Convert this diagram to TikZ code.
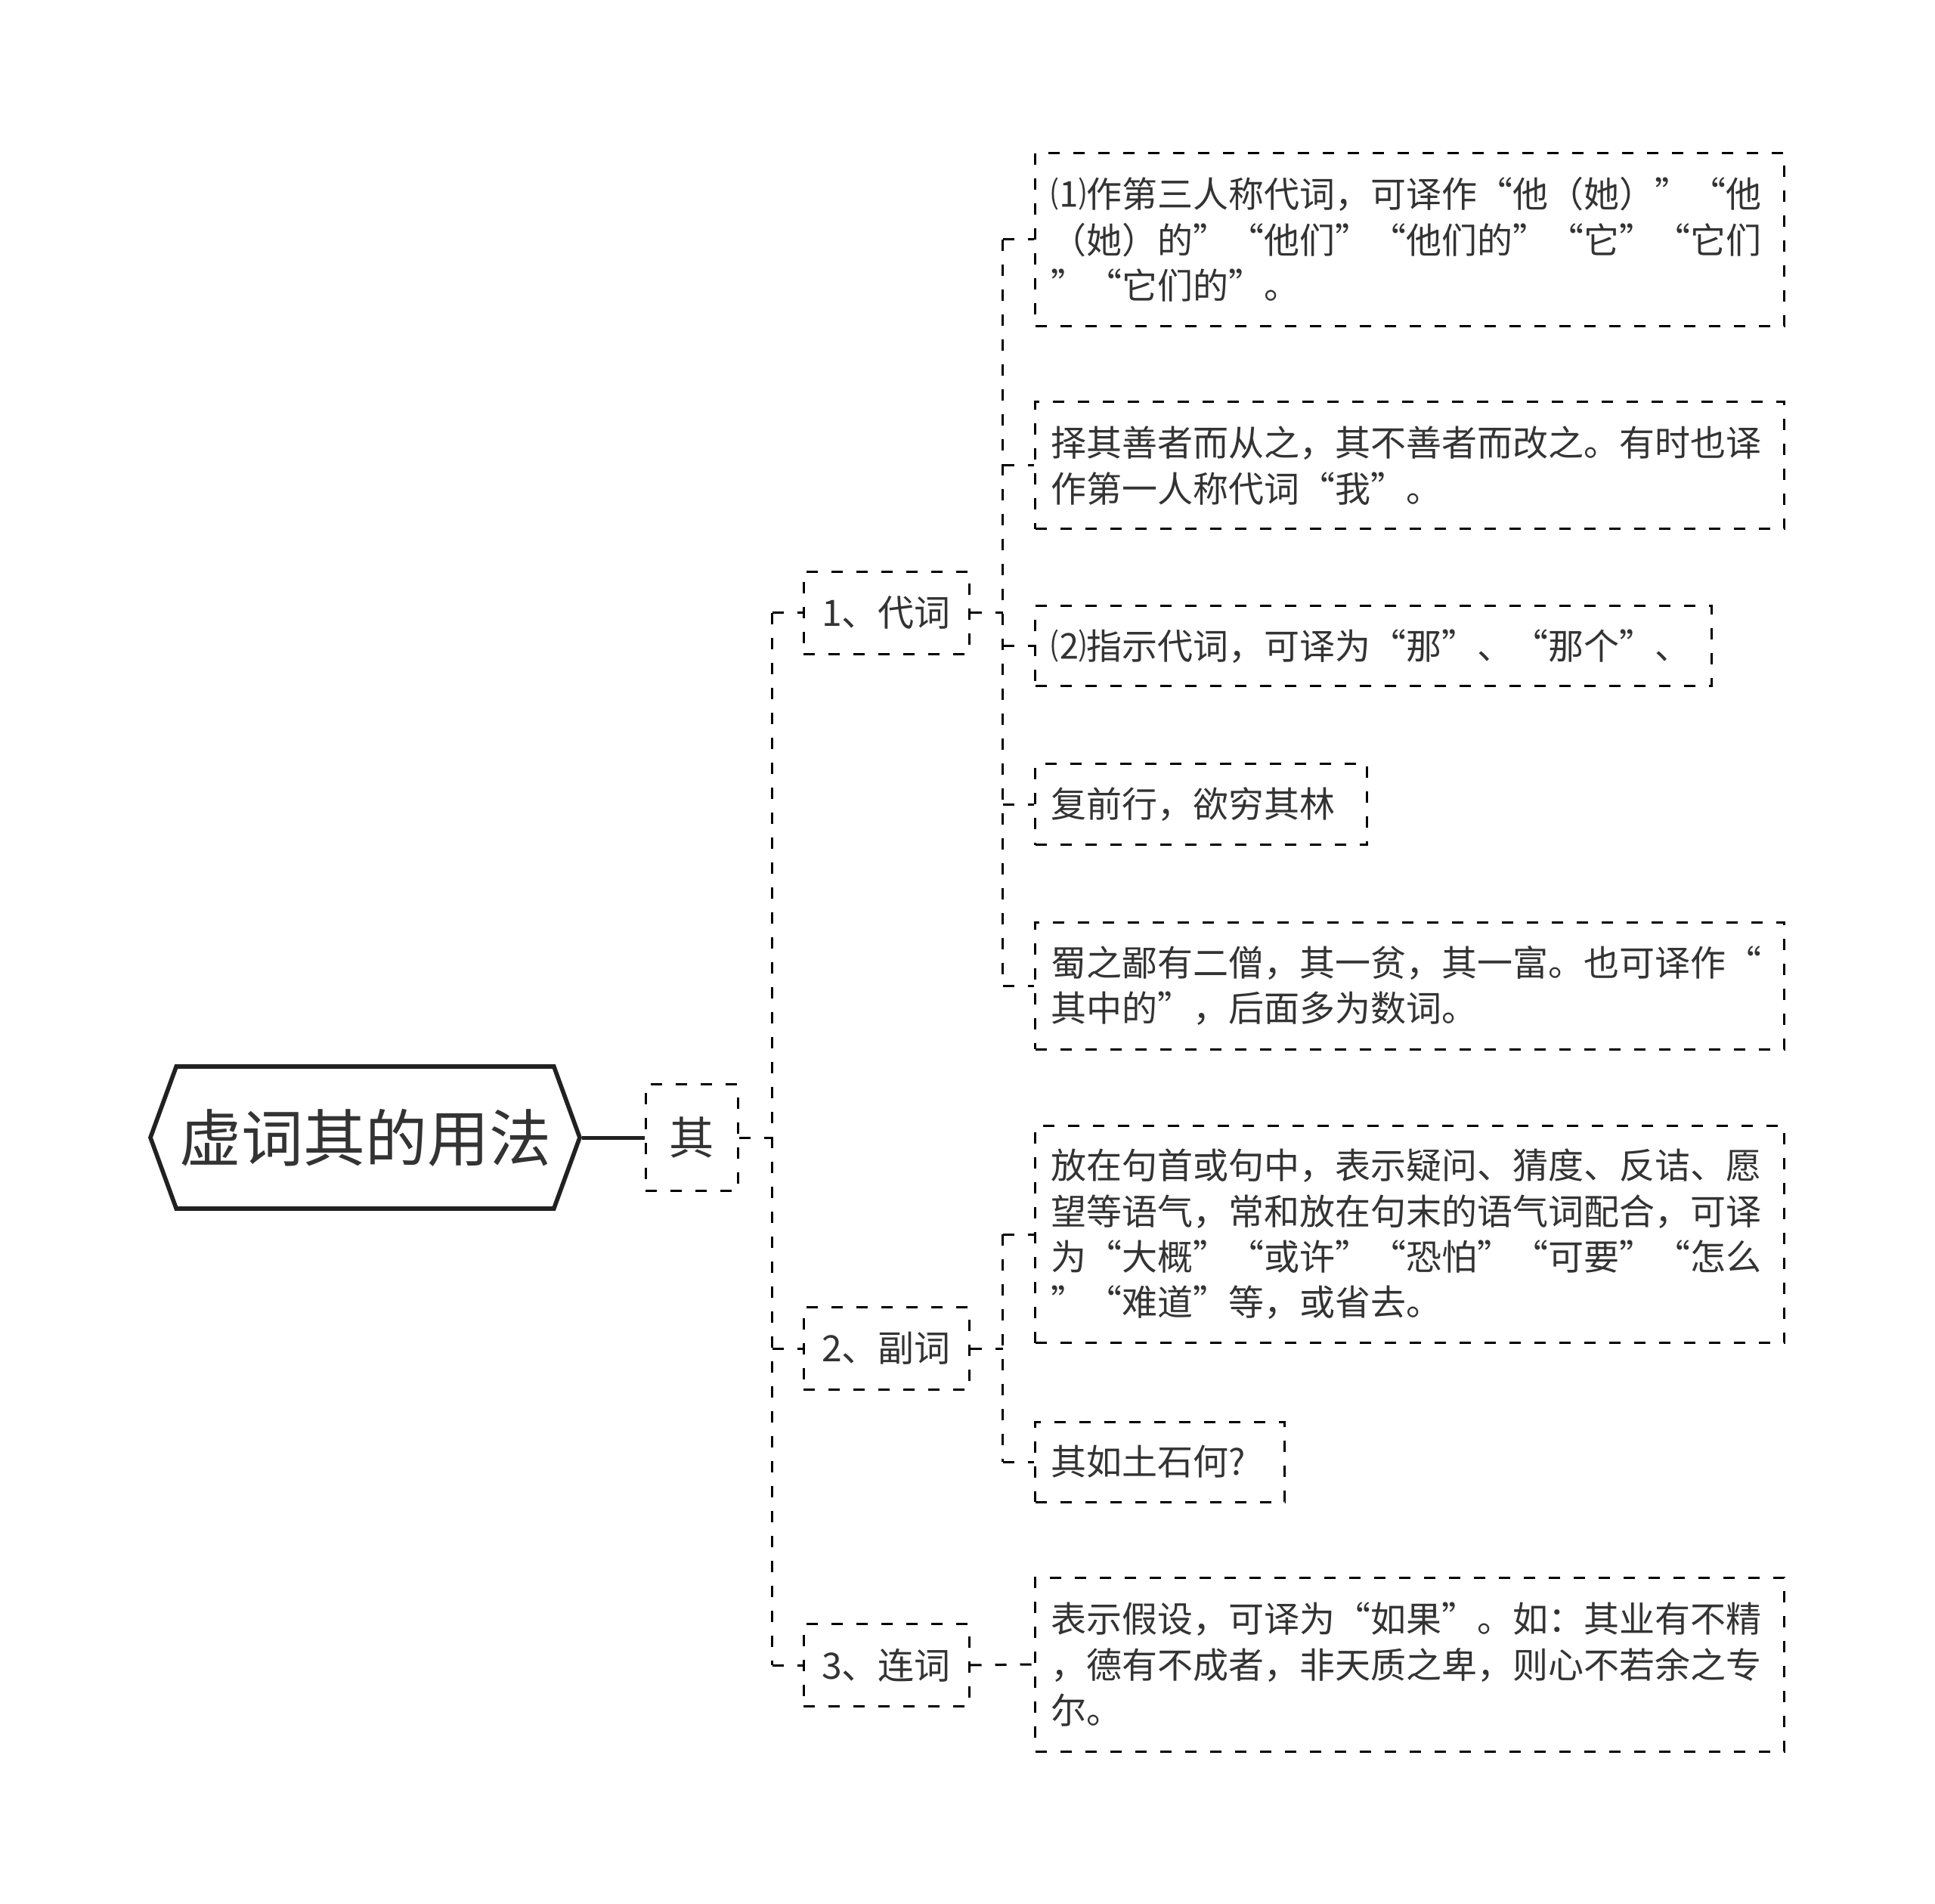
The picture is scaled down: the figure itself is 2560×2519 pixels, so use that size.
\documentclass[tikz,border=0pt]{standalone}
\usepackage{fontspec}
\setmainfont{Noto Sans CJK SC}
\usetikzlibrary{shapes.symbols}
\definecolor{txt}{HTML}{333333}
\begin{document}
\begin{tikzpicture}[x=0.3pt,y=-0.3pt,
  dashln/.style={draw=black, dash pattern=on 4.5pt off 5.4pt, line width=0.9pt},
  dbox/.style={dashln, text=txt, inner xsep=6.4pt, inner ysep=0pt},
  rootbox/.style={signal, signal to=east and west, signal pointer angle=140,
    draw=black!87, line width=1.7pt, fill=white, minimum width=170.4pt,
    minimum height=56.4pt, inner sep=0pt, text=txt,
    font=\fontsize{24.6pt}{28pt}\selectfont},
  qibox/.style={dbox, inner xsep=0pt, minimum width=36.6pt, minimum height=42.3pt,
    font=\fontsize{17.8pt}{20pt}\selectfont},
  lone/.style={dbox, inner xsep=0pt, minimum width=65.7pt, minimum height=32.7pt,
    font=\fontsize{14.4pt}{17pt}\selectfont},
  leaf/.style={dbox, anchor=west, align=left, font=\fontsize{14.1pt}{18.1pt}\selectfont},
  wide/.style={leaf, minimum width=297.3pt, text width=284.5pt},
  conn/.style={dashln},
  thickln/.style={draw=black!87, line width=1.5pt}
]
\useasboundingbox (0,0) rectangle (2560,2519);

\node[rootbox] (root) at (483,1505) {虚词其的用法};
\node[qibox] (qi) at (915,1505) {其};

\node[lone] (d1) at (1172.5,811) {1、代词};
\node[lone] (d2) at (1172.5,1784) {2、副词};
\node[lone] (d3) at (1172.5,2203) {3、连词};

\node[wide, minimum height=68.6pt] (a1) at (1368,317) {⑴作第三人称代词，可译作“他（她）”“他\\（她）的”“他们”“他们的”“它”“它们\\”“它们的”。};
\node[wide, minimum height=50.4pt] (a2) at (1368,616) {择其善者而从之，其不善者而改之。有时也译\\作第一人称代词“我”。};
\node[leaf, minimum width=268.5pt, text width=255.7pt, minimum height=31.8pt] (a3) at (1368,855) {⑵指示代词，可译为“那”、“那个”、};
\node[leaf, minimum width=131.7pt, text width=118.9pt, minimum height=32.1pt] (a4) at (1368,1064.5) {复前行，欲穷其林};
\node[wide, minimum height=50.4pt] (a5) at (1368,1304) {蜀之鄙有二僧，其一贫，其一富。也可译作“\\其中的”，后面多为数词。};

\node[wide, minimum height=86.1pt] (b1) at (1368,1633) {放在句首或句中，表示疑问、猜度、反诘、愿\\望等语气，常和放在句末的语气词配合，可译\\为“大概”“或许”“恐怕”“可要”“怎么\\”“难道”等，或省去。};
\node[leaf, minimum width=99pt, text width=86.2pt, minimum height=31.8pt] (b2) at (1368,1934) {其如土石何?};

\node[wide, minimum height=69pt] (c1) at (1368,2202) {表示假设，可译为“如果”。如：其业有不精\\，德有不成者，非天质之卑，则心不若余之专\\尔。};

% connectors
\draw[thickln] (root.east) -- (qi.west);

\draw[conn] (qi.east) -- ++(13.2pt,0) coordinate (j0);
\draw[conn] (j0 |- d1.west) -- (j0 |- d3.west);
\foreach \n in {d1,d2,d3} \draw[conn] (j0 |- \n.west) -- (\n.west);

\draw[conn] (d1.east) -- ++(12.9pt,0) coordinate (j1);
\draw[conn] (j1 |- a1.west) -- (j1 |- a5.west);
\foreach \n in {a1,a2,a3,a4,a5} \draw[conn] (j1 |- \n.west) -- (\n.west);

\draw[conn] (d2.east) -- ++(12.9pt,0) coordinate (j2);
\draw[conn] (j2 |- b1.west) -- (j2 |- b2.west);
\foreach \n in {b1,b2} \draw[conn] (j2 |- \n.west) -- (\n.west);

\draw[conn] (d3.east) -- (c1.west);
\end{tikzpicture}
\end{document}
